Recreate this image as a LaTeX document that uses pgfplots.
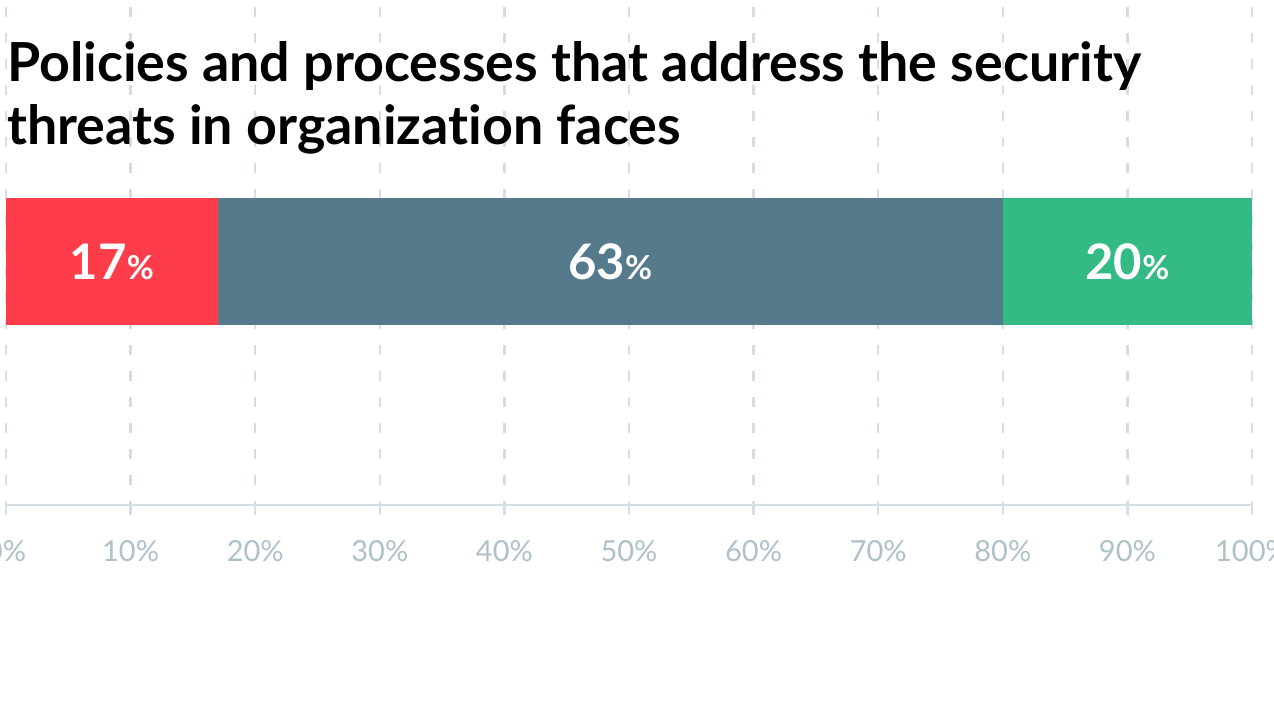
\documentclass[border=0pt]{standalone}
\usepackage{fontspec}
\setmainfont{Lato}[Ligatures=CommonOff]
\usepackage{pgfplots}
\pgfplotsset{compat=1.18}
\definecolor{cred}{RGB}{255,61,74}
\definecolor{cslate}{RGB}{85,122,139}
\definecolor{cgreen}{RGB}{52,186,132}
\definecolor{gridc}{RGB}{213,222,226}
\definecolor{tickc}{RGB}{174,192,200}
\begin{document}
\begin{tikzpicture}
\useasboundingbox (0,0) rectangle (1274bp,703bp);
\begin{axis}[
  at={(6bp,198bp)}, anchor=south west,
  scale only axis, width=1246bp, height=505bp,
  xmin=0, xmax=100, ymin=0, ymax=505,
  axis y line=none, axis x line*=bottom,
  axis line style={gridc, line width=2.5bp},
  xbar stacked, bar width=127bp,
  xtick={0,10,...,100},
  xticklabel={\pgfmathprintnumber{\tick}\%},
  /pgf/number format/assume math mode=true,
  xticklabel style={font=\fontsize{29bp}{29bp}\selectfont, text=tickc, anchor=base, yshift=-47bp},
  tick align=outside, major tick length=10bp,
  tick style={gridc, line width=2.5bp},
  xmajorgrids, grid style={gridc, line width=2.5bp, dash pattern=on 10bp off 16bp, dash phase=6bp},
  clip=false,
]
\addplot[fill=cred, draw=none] coordinates {(17,243.5)};
\addplot[fill=cslate, draw=none] coordinates {(63,243.5)};
\addplot[fill=cgreen, draw=none] coordinates {(20,243.5)};
\end{axis}
\begin{axis}[
  at={(6bp,198bp)}, anchor=south west,
  scale only axis, width=1246bp, height=505bp,
  xmin=0, xmax=100, ymin=0, ymax=505,
  hide axis, clip=false,
]
\addplot[only marks, mark=none,
  point meta=explicit symbolic,
  nodes near coords={\fontsize{49bp}{49bp}\selectfont\bfseries\pgfplotspointmeta{\fontsize{33bp}{33bp}\selectfont\%}},
  every node near coord/.append style={anchor=center, text=white, inner sep=0pt},
] table[meta=label] {
x y label
8.5 243.5 17
48.5 243.5 63
90 243.5 20
};
\end{axis}
\node[anchor=base west, inner sep=0pt] at (7bp,621bp) {\fontsize{53.8bp}{60bp}\selectfont\bfseries Policies and processes that address the security};
\node[anchor=base west, inner sep=0pt] at (7bp,558bp) {\fontsize{53.8bp}{60bp}\selectfont\bfseries threats in organization faces};
\end{tikzpicture}
\end{document}
